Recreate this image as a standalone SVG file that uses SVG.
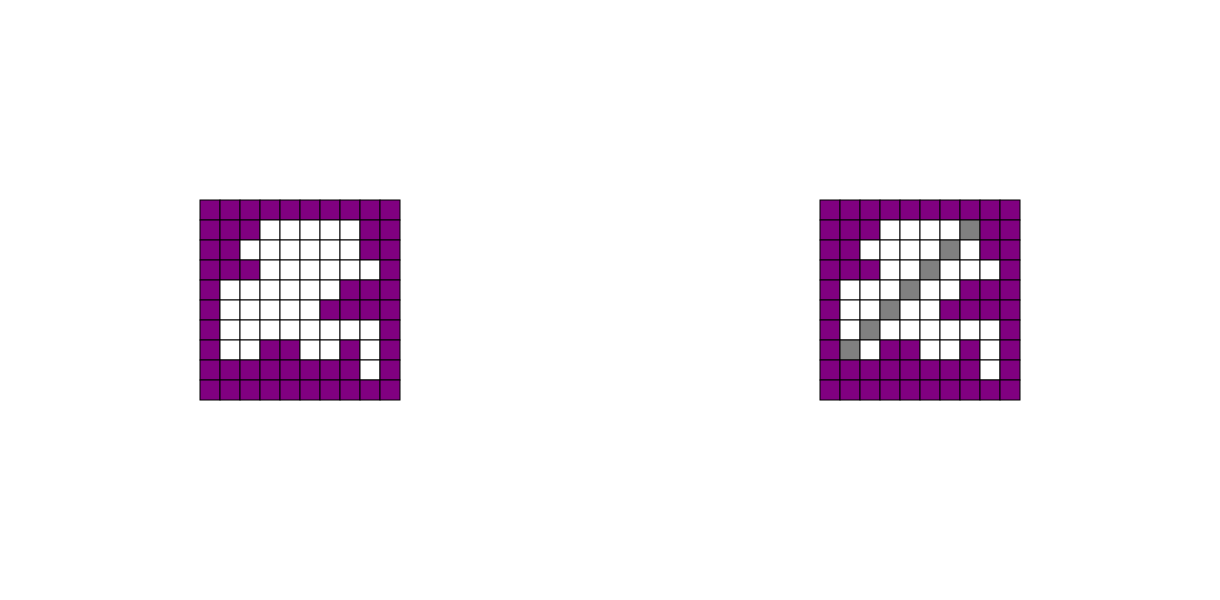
<svg xmlns="http://www.w3.org/2000/svg" width="1220" height="600" viewBox="0 0 1220 600">
<style>
rect{stroke:#000;stroke-width:1}
.p{fill:#800080}.w{fill:#fff}.g{fill:#808080}
</style>
<rect x="0" y="0" width="1220" height="600" fill="#fff" style="stroke:none"/>
<g id="grid-left">
<rect class="p" x="200" y="200" width="20" height="20"/><rect class="p" x="220" y="200" width="20" height="20"/><rect class="p" x="240" y="200" width="20" height="20"/><rect class="p" x="260" y="200" width="20" height="20"/><rect class="p" x="280" y="200" width="20" height="20"/><rect class="p" x="300" y="200" width="20" height="20"/><rect class="p" x="320" y="200" width="20" height="20"/><rect class="p" x="340" y="200" width="20" height="20"/><rect class="p" x="360" y="200" width="20" height="20"/><rect class="p" x="380" y="200" width="20" height="20"/>
<rect class="p" x="200" y="220" width="20" height="20"/><rect class="p" x="220" y="220" width="20" height="20"/><rect class="p" x="240" y="220" width="20" height="20"/><rect class="w" x="260" y="220" width="20" height="20"/><rect class="w" x="280" y="220" width="20" height="20"/><rect class="w" x="300" y="220" width="20" height="20"/><rect class="w" x="320" y="220" width="20" height="20"/><rect class="w" x="340" y="220" width="20" height="20"/><rect class="p" x="360" y="220" width="20" height="20"/><rect class="p" x="380" y="220" width="20" height="20"/>
<rect class="p" x="200" y="240" width="20" height="20"/><rect class="p" x="220" y="240" width="20" height="20"/><rect class="w" x="240" y="240" width="20" height="20"/><rect class="w" x="260" y="240" width="20" height="20"/><rect class="w" x="280" y="240" width="20" height="20"/><rect class="w" x="300" y="240" width="20" height="20"/><rect class="w" x="320" y="240" width="20" height="20"/><rect class="w" x="340" y="240" width="20" height="20"/><rect class="p" x="360" y="240" width="20" height="20"/><rect class="p" x="380" y="240" width="20" height="20"/>
<rect class="p" x="200" y="260" width="20" height="20"/><rect class="p" x="220" y="260" width="20" height="20"/><rect class="p" x="240" y="260" width="20" height="20"/><rect class="w" x="260" y="260" width="20" height="20"/><rect class="w" x="280" y="260" width="20" height="20"/><rect class="w" x="300" y="260" width="20" height="20"/><rect class="w" x="320" y="260" width="20" height="20"/><rect class="w" x="340" y="260" width="20" height="20"/><rect class="w" x="360" y="260" width="20" height="20"/><rect class="p" x="380" y="260" width="20" height="20"/>
<rect class="p" x="200" y="280" width="20" height="20"/><rect class="w" x="220" y="280" width="20" height="20"/><rect class="w" x="240" y="280" width="20" height="20"/><rect class="w" x="260" y="280" width="20" height="20"/><rect class="w" x="280" y="280" width="20" height="20"/><rect class="w" x="300" y="280" width="20" height="20"/><rect class="w" x="320" y="280" width="20" height="20"/><rect class="p" x="340" y="280" width="20" height="20"/><rect class="p" x="360" y="280" width="20" height="20"/><rect class="p" x="380" y="280" width="20" height="20"/>
<rect class="p" x="200" y="300" width="20" height="20"/><rect class="w" x="220" y="300" width="20" height="20"/><rect class="w" x="240" y="300" width="20" height="20"/><rect class="w" x="260" y="300" width="20" height="20"/><rect class="w" x="280" y="300" width="20" height="20"/><rect class="w" x="300" y="300" width="20" height="20"/><rect class="p" x="320" y="300" width="20" height="20"/><rect class="p" x="340" y="300" width="20" height="20"/><rect class="p" x="360" y="300" width="20" height="20"/><rect class="p" x="380" y="300" width="20" height="20"/>
<rect class="p" x="200" y="320" width="20" height="20"/><rect class="w" x="220" y="320" width="20" height="20"/><rect class="w" x="240" y="320" width="20" height="20"/><rect class="w" x="260" y="320" width="20" height="20"/><rect class="w" x="280" y="320" width="20" height="20"/><rect class="w" x="300" y="320" width="20" height="20"/><rect class="w" x="320" y="320" width="20" height="20"/><rect class="w" x="340" y="320" width="20" height="20"/><rect class="w" x="360" y="320" width="20" height="20"/><rect class="p" x="380" y="320" width="20" height="20"/>
<rect class="p" x="200" y="340" width="20" height="20"/><rect class="w" x="220" y="340" width="20" height="20"/><rect class="w" x="240" y="340" width="20" height="20"/><rect class="p" x="260" y="340" width="20" height="20"/><rect class="p" x="280" y="340" width="20" height="20"/><rect class="w" x="300" y="340" width="20" height="20"/><rect class="w" x="320" y="340" width="20" height="20"/><rect class="p" x="340" y="340" width="20" height="20"/><rect class="w" x="360" y="340" width="20" height="20"/><rect class="p" x="380" y="340" width="20" height="20"/>
<rect class="p" x="200" y="360" width="20" height="20"/><rect class="p" x="220" y="360" width="20" height="20"/><rect class="p" x="240" y="360" width="20" height="20"/><rect class="p" x="260" y="360" width="20" height="20"/><rect class="p" x="280" y="360" width="20" height="20"/><rect class="p" x="300" y="360" width="20" height="20"/><rect class="p" x="320" y="360" width="20" height="20"/><rect class="p" x="340" y="360" width="20" height="20"/><rect class="w" x="360" y="360" width="20" height="20"/><rect class="p" x="380" y="360" width="20" height="20"/>
<rect class="p" x="200" y="380" width="20" height="20"/><rect class="p" x="220" y="380" width="20" height="20"/><rect class="p" x="240" y="380" width="20" height="20"/><rect class="p" x="260" y="380" width="20" height="20"/><rect class="p" x="280" y="380" width="20" height="20"/><rect class="p" x="300" y="380" width="20" height="20"/><rect class="p" x="320" y="380" width="20" height="20"/><rect class="p" x="340" y="380" width="20" height="20"/><rect class="p" x="360" y="380" width="20" height="20"/><rect class="p" x="380" y="380" width="20" height="20"/>
</g>
<g id="grid-right">
<rect class="p" x="820" y="200" width="20" height="20"/><rect class="p" x="840" y="200" width="20" height="20"/><rect class="p" x="860" y="200" width="20" height="20"/><rect class="p" x="880" y="200" width="20" height="20"/><rect class="p" x="900" y="200" width="20" height="20"/><rect class="p" x="920" y="200" width="20" height="20"/><rect class="p" x="940" y="200" width="20" height="20"/><rect class="p" x="960" y="200" width="20" height="20"/><rect class="p" x="980" y="200" width="20" height="20"/><rect class="p" x="1000" y="200" width="20" height="20"/>
<rect class="p" x="820" y="220" width="20" height="20"/><rect class="p" x="840" y="220" width="20" height="20"/><rect class="p" x="860" y="220" width="20" height="20"/><rect class="w" x="880" y="220" width="20" height="20"/><rect class="w" x="900" y="220" width="20" height="20"/><rect class="w" x="920" y="220" width="20" height="20"/><rect class="w" x="940" y="220" width="20" height="20"/><rect class="g" x="960" y="220" width="20" height="20"/><rect class="p" x="980" y="220" width="20" height="20"/><rect class="p" x="1000" y="220" width="20" height="20"/>
<rect class="p" x="820" y="240" width="20" height="20"/><rect class="p" x="840" y="240" width="20" height="20"/><rect class="w" x="860" y="240" width="20" height="20"/><rect class="w" x="880" y="240" width="20" height="20"/><rect class="w" x="900" y="240" width="20" height="20"/><rect class="w" x="920" y="240" width="20" height="20"/><rect class="g" x="940" y="240" width="20" height="20"/><rect class="w" x="960" y="240" width="20" height="20"/><rect class="p" x="980" y="240" width="20" height="20"/><rect class="p" x="1000" y="240" width="20" height="20"/>
<rect class="p" x="820" y="260" width="20" height="20"/><rect class="p" x="840" y="260" width="20" height="20"/><rect class="p" x="860" y="260" width="20" height="20"/><rect class="w" x="880" y="260" width="20" height="20"/><rect class="w" x="900" y="260" width="20" height="20"/><rect class="g" x="920" y="260" width="20" height="20"/><rect class="w" x="940" y="260" width="20" height="20"/><rect class="w" x="960" y="260" width="20" height="20"/><rect class="w" x="980" y="260" width="20" height="20"/><rect class="p" x="1000" y="260" width="20" height="20"/>
<rect class="p" x="820" y="280" width="20" height="20"/><rect class="w" x="840" y="280" width="20" height="20"/><rect class="w" x="860" y="280" width="20" height="20"/><rect class="w" x="880" y="280" width="20" height="20"/><rect class="g" x="900" y="280" width="20" height="20"/><rect class="w" x="920" y="280" width="20" height="20"/><rect class="w" x="940" y="280" width="20" height="20"/><rect class="p" x="960" y="280" width="20" height="20"/><rect class="p" x="980" y="280" width="20" height="20"/><rect class="p" x="1000" y="280" width="20" height="20"/>
<rect class="p" x="820" y="300" width="20" height="20"/><rect class="w" x="840" y="300" width="20" height="20"/><rect class="w" x="860" y="300" width="20" height="20"/><rect class="g" x="880" y="300" width="20" height="20"/><rect class="w" x="900" y="300" width="20" height="20"/><rect class="w" x="920" y="300" width="20" height="20"/><rect class="p" x="940" y="300" width="20" height="20"/><rect class="p" x="960" y="300" width="20" height="20"/><rect class="p" x="980" y="300" width="20" height="20"/><rect class="p" x="1000" y="300" width="20" height="20"/>
<rect class="p" x="820" y="320" width="20" height="20"/><rect class="w" x="840" y="320" width="20" height="20"/><rect class="g" x="860" y="320" width="20" height="20"/><rect class="w" x="880" y="320" width="20" height="20"/><rect class="w" x="900" y="320" width="20" height="20"/><rect class="w" x="920" y="320" width="20" height="20"/><rect class="w" x="940" y="320" width="20" height="20"/><rect class="w" x="960" y="320" width="20" height="20"/><rect class="w" x="980" y="320" width="20" height="20"/><rect class="p" x="1000" y="320" width="20" height="20"/>
<rect class="p" x="820" y="340" width="20" height="20"/><rect class="g" x="840" y="340" width="20" height="20"/><rect class="w" x="860" y="340" width="20" height="20"/><rect class="p" x="880" y="340" width="20" height="20"/><rect class="p" x="900" y="340" width="20" height="20"/><rect class="w" x="920" y="340" width="20" height="20"/><rect class="w" x="940" y="340" width="20" height="20"/><rect class="p" x="960" y="340" width="20" height="20"/><rect class="w" x="980" y="340" width="20" height="20"/><rect class="p" x="1000" y="340" width="20" height="20"/>
<rect class="p" x="820" y="360" width="20" height="20"/><rect class="p" x="840" y="360" width="20" height="20"/><rect class="p" x="860" y="360" width="20" height="20"/><rect class="p" x="880" y="360" width="20" height="20"/><rect class="p" x="900" y="360" width="20" height="20"/><rect class="p" x="920" y="360" width="20" height="20"/><rect class="p" x="940" y="360" width="20" height="20"/><rect class="p" x="960" y="360" width="20" height="20"/><rect class="w" x="980" y="360" width="20" height="20"/><rect class="p" x="1000" y="360" width="20" height="20"/>
<rect class="p" x="820" y="380" width="20" height="20"/><rect class="p" x="840" y="380" width="20" height="20"/><rect class="p" x="860" y="380" width="20" height="20"/><rect class="p" x="880" y="380" width="20" height="20"/><rect class="p" x="900" y="380" width="20" height="20"/><rect class="p" x="920" y="380" width="20" height="20"/><rect class="p" x="940" y="380" width="20" height="20"/><rect class="p" x="960" y="380" width="20" height="20"/><rect class="p" x="980" y="380" width="20" height="20"/><rect class="p" x="1000" y="380" width="20" height="20"/>
</g>
</svg>
